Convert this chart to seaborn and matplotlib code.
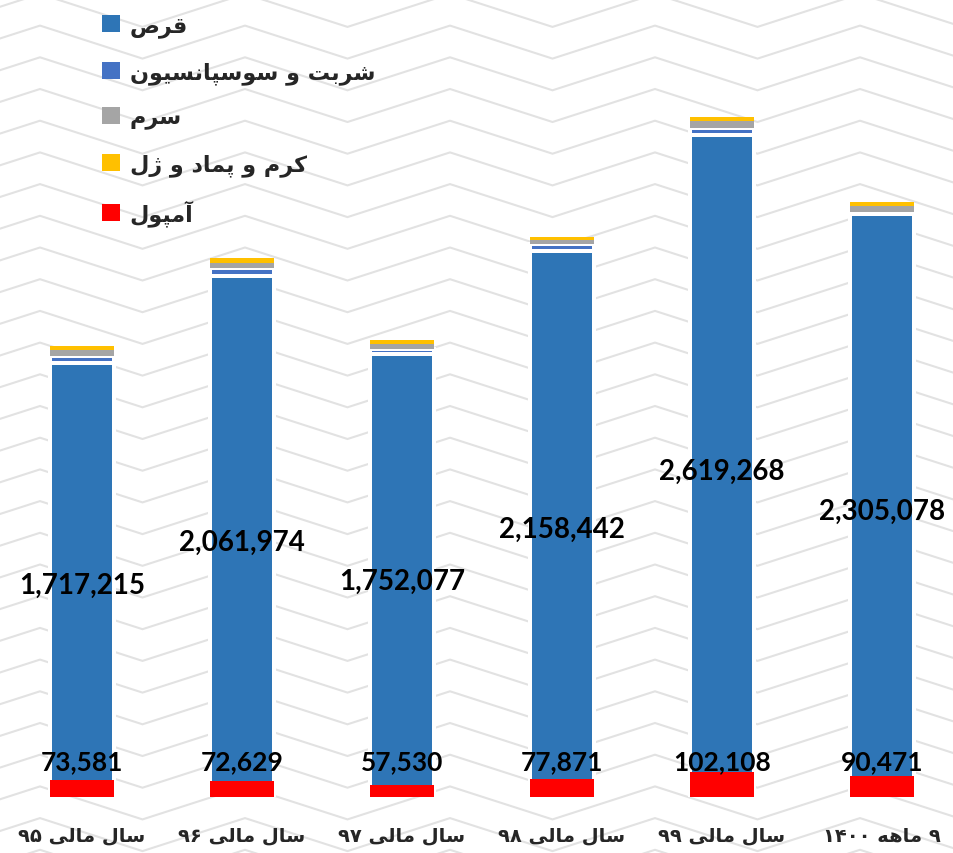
import re
import numpy as np
import pandas as pd
import matplotlib
matplotlib.use("Agg")
import matplotlib.pyplot as plt
import matplotlib.patheffects as pe
from matplotlib.patches import Patch
import seaborn as sns

# ---------------- data ----------------
categories = ["سال مالی ۹۵", "سال مالی ۹۶", "سال مالی ۹۷", "سال مالی ۹۸", "سال مالی ۹۹", "۹ ماهه ۱۴۰۰"]
series_names = ["قرص", "شربت و سوسپانسیون", "سرم", "کرم و پماد و ژل", "آمپول"]
tablet = [1717215, 2061974, 1752077, 2158442, 2619268, 2305078]
syrup = [28500, 29300, 19800, 28900, 26100, 10700]
serum = [20600, 22600, 19800, 15800, 27700, 22600]
cream = [17800, 17000, 15800, 13100, 17000, 14700]
ampoule = [73581, 72629, 57530, 77871, 102108, 90471]
colors = ["#2E75B6", "#4472C4", "#A5A5A5", "#FFC000", "#FF0000"]

# ---------------- Persian shaping (presentation forms + visual order) ----------------
FORMS = {
    "ا": ("\uFE8D", "\uFE8E", None, None),
    "آ": ("\uFE81", "\uFE82", None, None),
    "ب": ("\uFE8F", "\uFE90", "\uFE91", "\uFE92"),
    "پ": ("\uFB56", "\uFB57", "\uFB58", "\uFB59"),
    "ت": ("\uFE95", "\uFE96", "\uFE97", "\uFE98"),
    "د": ("\uFEA9", "\uFEAA", None, None),
    "ر": ("\uFEAD", "\uFEAE", None, None),
    "ژ": ("\uFB8A", "\uFB8B", None, None),
    "س": ("\uFEB1", "\uFEB2", "\uFEB3", "\uFEB4"),
    "ش": ("\uFEB5", "\uFEB6", "\uFEB7", "\uFEB8"),
    "ص": ("\uFEB9", "\uFEBA", "\uFEBB", "\uFEBC"),
    "ق": ("\uFED5", "\uFED6", "\uFED7", "\uFED8"),
    "ک": ("\uFB8E", "\uFB8F", "\uFB90", "\uFB91"),
    "ل": ("\uFEDD", "\uFEDE", "\uFEDF", "\uFEE0"),
    "م": ("\uFEE1", "\uFEE2", "\uFEE3", "\uFEE4"),
    "ن": ("\uFEE5", "\uFEE6", "\uFEE7", "\uFEE8"),
    "ه": ("\uFEE9", "\uFEEA", "\uFEEB", "\uFEEC"),
    "و": ("\uFEED", "\uFEEE", None, None),
    "ی": ("\uFBFC", "\uFBFD", "\uFBFE", "\uFBFF"),
}
RIGHT_ONLY = set("اآدرژو")


def shape(text):
    out = []
    n = len(text)
    for i, ch in enumerate(text):
        if ch not in FORMS:
            out.append(ch)
            continue
        prev = text[i - 1] if i > 0 else ""
        nxt = text[i + 1] if i < n - 1 else ""
        jp = prev in FORMS and prev not in RIGHT_ONLY
        jn = ch not in RIGHT_ONLY and nxt in FORMS
        iso, fin, ini, med = FORMS[ch]
        if jp and jn:
            out.append(med)
        elif jp:
            out.append(fin)
        elif jn:
            out.append(ini)
        else:
            out.append(iso)
    s = "".join(out)
    tokens = re.findall(r"[0-9\u06F0-\u06F9]+|.", s)
    return "".join(reversed(tokens))


df = pd.DataFrame({
    "cat": categories,
    "tablet": tablet,
    "syrup": syrup,
    "serum": serum,
    "cream": cream,
    "ampoule": ampoule,
})
df["b_syrup"] = df["tablet"]
df["b_serum"] = df["tablet"] + df["syrup"]
df["b_cream"] = df["b_serum"] + df["serum"]

# ---------------- figure ----------------
sns.set_theme(style="white")
plt.rcParams["font.family"] = ["Lato", "DejaVu Sans"]
W, H = 954, 854
fig = plt.figure(figsize=(W / 100, H / 100), dpi=100)
fig.patch.set_facecolor("white")

# background zig-zag texture
bg = fig.add_axes([0, 0, 1, 1], zorder=-1)
bg.set_xlim(0, W)
bg.set_ylim(H, 0)
bg.axis("off")
period, x0, amp, sp, y0 = 205.0, 40.0, 33.0, 31.7, 248.5
xv = np.arange(x0 - 2 * period, W + period, period / 2)
for k in range(-12, 30):
    base = y0 + sp * k
    yv = [base + (amp if j % 2 else 0) for j in range(len(xv))]
    bg.plot(xv, yv, color="#E2E2E2", lw=1.5, solid_joinstyle="miter")

base_px = 797.5
ax = fig.add_axes([0, (H - base_px) / H, 1, base_px / H])
ax.set_facecolor("none")
ax2 = ax.twinx()

px = 0.72  # points per pixel at dpi 100

common = dict(data=df, x="cat", order=categories, errorbar=None, saturation=1)
sns.barplot(y="tablet", color=colors[0], width=0.375, linewidth=0, zorder=2, ax=ax, **common)
for p in list(ax.patches):
    p.set_path_effects([pe.Stroke(linewidth=8 * px, foreground="white"), pe.Normal()])
sns.barplot(y="syrup", bottom=df["b_syrup"], color=colors[1], width=0.4,
            edgecolor="white", linewidth=4 * px, zorder=3, ax=ax, **common)
sns.barplot(y="serum", bottom=df["b_serum"], color=colors[2], width=0.4,
            linewidth=0, zorder=4, ax=ax, **common)
sns.barplot(y="cream", bottom=df["b_cream"], color=colors[3], width=0.4,
            linewidth=0, zorder=4, ax=ax, **common)
sns.barplot(y="ampoule", color=colors[4], width=0.4, linewidth=0, zorder=2, ax=ax2, **common)

ax.set_ylim(0, base_px * 3960)
ax2.set_ylim(16500, 16500 + base_px * 3566)
ax.set_xlim(-82 / 160, (W - 82) / 160)

for a in (ax, ax2):
    for s in a.spines.values():
        s.set_visible(False)
    a.set_yticks([])
    a.set_ylabel("")
    a.set_xlabel("")

ax.set_xticks(range(len(categories)))
ax.set_xticklabels([shape(c) for c in categories], fontsize=14, fontweight="bold",
                   family=["DejaVu Sans"])
ax.tick_params(axis="x", length=0, pad=21)

# value labels
for i, v in enumerate(tablet):
    ax.annotate(f"{v:,}", xy=(i, v / 2), xytext=(0, -2), textcoords="offset points",
                ha="center", va="center_baseline", fontsize=20, fontweight="bold",
                color="black", zorder=6)
for i, v in enumerate(ampoule):
    ax2.annotate(f"{v:,}", xy=(i, 0), xycoords=("data", "axes fraction"),
                 xytext=(0, 27.5 * px), textcoords="offset points",
                 ha="center", va="baseline", fontsize=19, fontweight="bold",
                 color="black", zorder=6)

# legend
handles = [Patch(facecolor=c, edgecolor="none") for c in colors]
fig.legend(handles=handles, labels=[shape(n) for n in series_names], loc="upper left",
           bbox_to_anchor=(102 / W, 1 - 16 / H), frameon=False, borderpad=0,
           borderaxespad=0, handlelength=0.8, handleheight=0.8, handletextpad=0.45,
           labelspacing=1.07,
           prop={"family": ["DejaVu Sans"], "weight": "bold", "size": 16})

fig.savefig("out.png", dpi=100, facecolor="white")
